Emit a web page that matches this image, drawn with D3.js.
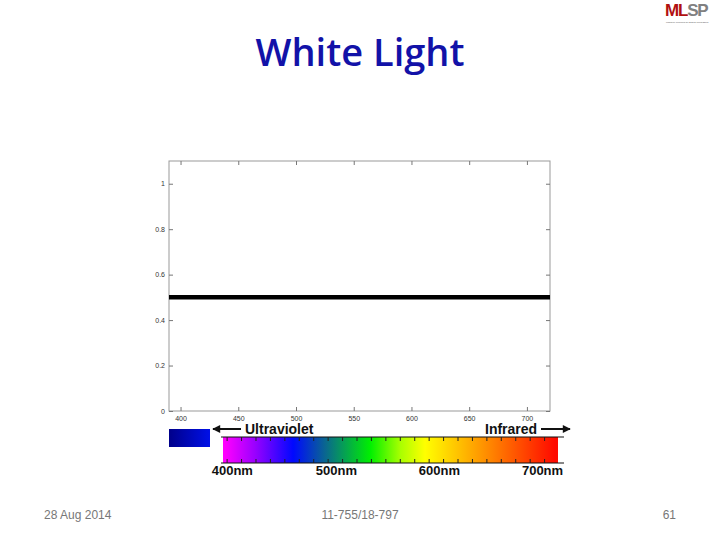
<!DOCTYPE html>
<html>
<head>
<meta charset="utf-8">
<script src="https://cdn.jsdelivr.net/npm/d3@7"></script>
<style>
  body { margin: 0; background: #fff; }
  svg { display: block; }
</style>
</head>
<body>
<svg id="chart" width="720" height="540"></svg>
<script>
// flat white light spectrum
const wavelengths = [390, 720];
const intensity = [0.5, 0.5];
const xTicks = [400, 450, 500, 550, 600, 650, 700];
const yTicks = [0, 0.2, 0.4, 0.6, 0.8, 1];

// spectrum strip
const spectrumStops = [
  { nm: 392, color: "#ff00ff" },
  { nm: 421, color: "#9a00ff" },
  { nm: 458, color: "#0008ff" },
  { nm: 489, color: "#0a6690" },
  { nm: 533, color: "#00f000" },
  { nm: 562, color: "#a8ff00" },
  { nm: 586, color: "#ffff00" },
  { nm: 639, color: "#ff9a00" },
  { nm: 712, color: "#ff0a00" }
];
const spectrumLabels = [400, 500, 600, 700];

const svg = d3.select("#chart");

svg.append("text")
  .attr("x", 360).attr("y", 66)
  .attr("text-anchor", "middle")
  .style("font-family", "'Open Sans', sans-serif")
  .style("font-size", "38px")
  .style("font-weight", 600)
  .attr("fill", "#1212a8")
  .text("White Light");

// logo
const logo = svg.append("text")
  .attr("x", 665).attr("y", 16)
  .style("font-family", "'Liberation Sans', Arial, sans-serif")
  .style("font-size", "17px")
  .style("font-weight", "bold")
  .attr("letter-spacing", "-1.2");
logo.append("tspan").attr("fill", "#b01010").text("ML");
logo.append("tspan").attr("fill", "#808080").text("SP");
svg.append("text")
  .attr("x", 666).attr("y", 23)
  .style("font-family", "'Liberation Sans', Arial, sans-serif")
  .style("font-size", "2.4px")
  .attr("fill", "#555")
  .text("Machine Learning for Signal Processing");

// plot
const pLeft = 169, pRight = 550, pTop = 161, pBottom = 411;
const x = d3.scaleLinear().domain([390, 720]).range([pLeft, pRight]);
const y = d3.scaleLinear().domain([0, 1.1]).range([pBottom, pTop]);

const plot = svg.append("g");
plot.append("rect")
  .attr("x", pLeft).attr("y", pTop)
  .attr("width", pRight - pLeft).attr("height", pBottom - pTop)
  .attr("fill", "#fff").attr("stroke", "#999").attr("stroke-width", 1);

function styleAxis(g) {
  g.select(".domain").remove();
  g.selectAll("line").attr("stroke", "#777");
  g.selectAll("text")
    .style("font-family", "'Liberation Sans', Arial, sans-serif")
    .style("font-size", "7px")
    .attr("fill", "#333");
}

plot.append("g")
  .attr("transform", `translate(0,${pBottom})`)
  .call(d3.axisBottom(x).tickValues(xTicks).tickSize(-4).tickPadding(5).tickFormat(d3.format("d")))
  .call(styleAxis);
plot.append("g")
  .attr("transform", `translate(0,${pTop})`)
  .call(d3.axisTop(x).tickValues(xTicks).tickSize(-4).tickFormat(""))
  .call(styleAxis);
plot.append("g")
  .attr("transform", `translate(${pLeft},0)`)
  .call(d3.axisLeft(y).tickValues(yTicks).tickSize(-4).tickPadding(4).tickFormat(d => d))
  .call(styleAxis);
plot.append("g")
  .attr("transform", `translate(${pRight},0)`)
  .call(d3.axisRight(y).tickValues(yTicks).tickSize(-4).tickFormat(""))
  .call(styleAxis);

const line = d3.line().x((d, i) => x(wavelengths[i])).y(d => y(d));
plot.append("path")
  .datum(intensity)
  .attr("d", line)
  .attr("fill", "none")
  .attr("stroke", "#000")
  .attr("stroke-width", 4.5);

// blue swatch
const defs = svg.append("defs");
const blueGrad = defs.append("linearGradient").attr("id", "blueGrad");
blueGrad.append("stop").attr("offset", "0%").attr("stop-color", "#00008a");
blueGrad.append("stop").attr("offset", "100%").attr("stop-color", "#0010e8");
svg.append("rect")
  .attr("x", 169).attr("y", 429).attr("width", 41).attr("height", 18)
  .attr("fill", "url(#blueGrad)");

// spectrum bar
const s = d3.scaleLinear().domain([390, 715]).range([223, 558]);
const specGrad = defs.append("linearGradient").attr("id", "specGrad")
  .attr("gradientUnits", "userSpaceOnUse")
  .attr("x1", s(390)).attr("x2", s(715));
specGrad.selectAll("stop").data(spectrumStops).enter().append("stop")
  .attr("offset", d => (d.nm - 390) / (715 - 390))
  .attr("stop-color", d => d.color);

const barTop = 437, barBottom = 463;
svg.append("rect")
  .attr("x", s(390)).attr("y", barTop)
  .attr("width", s(715) - s(390)).attr("height", barBottom - barTop)
  .attr("fill", "url(#specGrad)");
svg.append("g")
  .selectAll("line.edge").data([barTop, barBottom]).enter().append("line")
  .attr("x1", s(390) - 2).attr("x2", s(715) + 6)
  .attr("y1", d => d).attr("y2", d => d)
  .attr("stroke", "#111").attr("stroke-width", 1.2);

const barTicks = d3.range(394, 714, 14);
svg.append("g")
  .selectAll("line").data(barTicks).enter().append("line")
  .attr("x1", d => s(d)).attr("x2", d => s(d))
  .attr("y1", barTop).attr("y2", barTop + 4)
  .attr("stroke", "#222").attr("stroke-width", 1);
svg.append("g")
  .selectAll("line").data(barTicks).enter().append("line")
  .attr("x1", d => s(d)).attr("x2", d => s(d))
  .attr("y1", barBottom - 4).attr("y2", barBottom)
  .attr("stroke", "#222").attr("stroke-width", 1);

svg.append("g")
  .selectAll("text").data(spectrumLabels).enter().append("text")
  .attr("x", d => s(d) + (d === 400 ? -1 : 0)).attr("y", 475)
  .attr("text-anchor", "middle")
  .style("font-family", "'Liberation Sans', Arial, sans-serif")
  .style("font-size", "13px")
  .style("font-weight", "bold")
  .attr("fill", "#111")
  .text(d => d + "nm");

// arrows
const labelStyle = t => t
  .style("font-family", "'Liberation Sans', Arial, sans-serif")
  .style("font-size", "14px")
  .style("font-weight", "bold")
  .attr("fill", "#111");

defs.append("marker").attr("id", "arrow")
  .attr("viewBox", "0 0 10 10").attr("refX", 9).attr("refY", 5)
  .attr("markerWidth", 5).attr("markerHeight", 4).attr("orient", "auto-start-reverse")
  .append("path").attr("d", "M0,0 L10,5 L0,10 z").attr("fill", "#111");

svg.append("line")
  .attr("x1", 241).attr("x2", 213).attr("y1", 429).attr("y2", 429)
  .attr("stroke", "#111").attr("stroke-width", 2)
  .attr("marker-end", "url(#arrow)");
svg.append("text").attr("x", 245).attr("y", 434).call(labelStyle).text("Ultraviolet");

svg.append("text").attr("x", 485).attr("y", 434).call(labelStyle).text("Infrared");
svg.append("line")
  .attr("x1", 541).attr("x2", 570).attr("y1", 429).attr("y2", 429)
  .attr("stroke", "#111").attr("stroke-width", 2)
  .attr("marker-end", "url(#arrow)");

// footer
const footer = [
  { text: "28 Aug 2014", x: 44, anchor: "start" },
  { text: "11-755/18-797", x: 360, anchor: "middle" },
  { text: "61", x: 676, anchor: "end" }
];
svg.append("g")
  .selectAll("text").data(footer).enter().append("text")
  .attr("x", d => d.x).attr("y", 519)
  .attr("text-anchor", d => d.anchor)
  .style("font-family", "'Liberation Sans', Arial, sans-serif")
  .style("font-size", "12px")
  .attr("fill", "#777")
  .text(d => d.text);
</script>
</body>
</html>
